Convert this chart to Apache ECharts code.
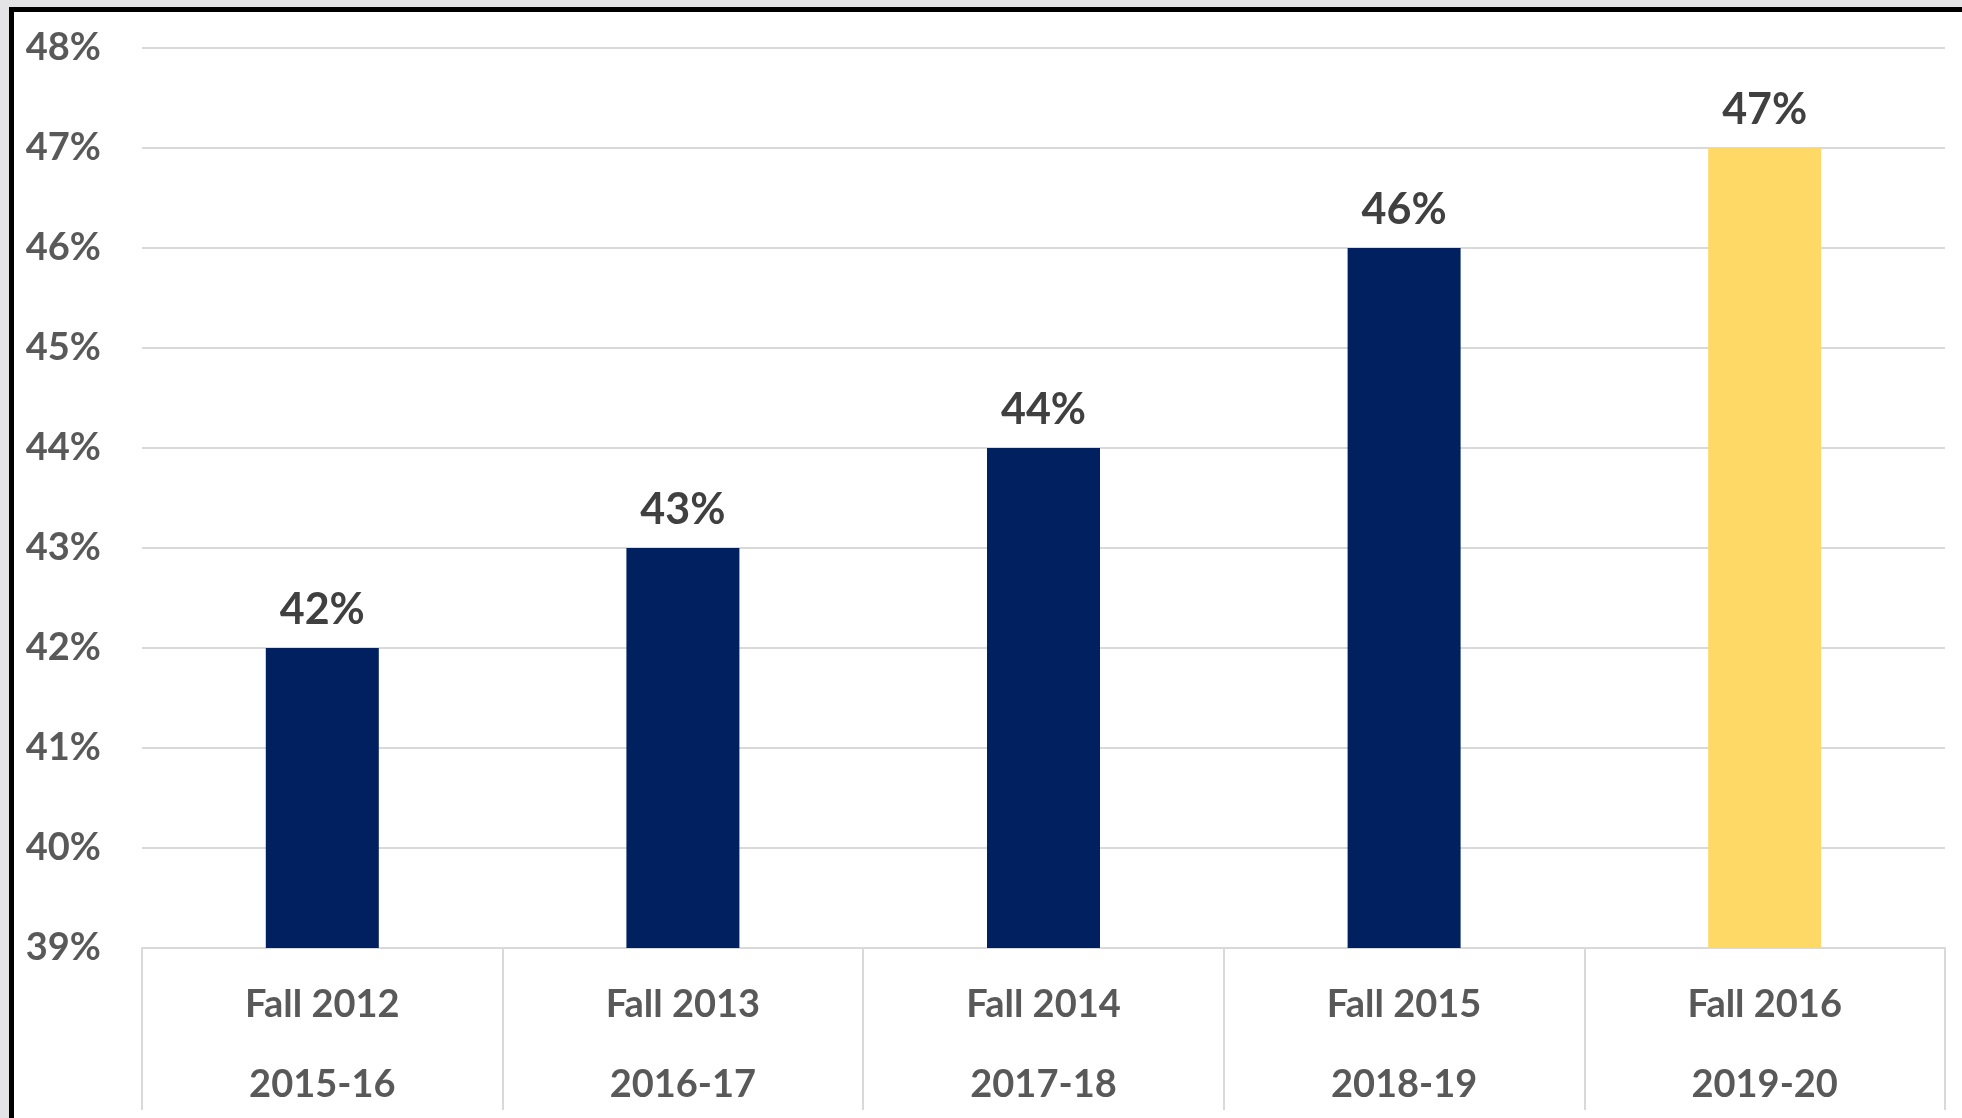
<!DOCTYPE html>
<html>
<head>
<meta charset="utf-8">
<script src="https://cdn.jsdelivr.net/npm/echarts@6/dist/echarts.min.js"></script>
<style>
html,body{margin:0;padding:0;width:1962px;height:1118px;overflow:hidden;background:#e4e4e6;}
#frame{position:absolute;left:9px;top:7px;width:1960px;height:1120px;background:#fff;border-left:5px solid #000;border-top:5px solid #000;}
#chart{position:absolute;left:0;top:0;width:1962px;height:1118px;}
</style>
</head>
<body>
<div id="frame"></div>
<div id="chart"></div>
<script>
const terms = ["Fall 2012", "Fall 2013", "Fall 2014", "Fall 2015", "Fall 2016"];
const years = ["2015-16", "2016-17", "2017-18", "2018-19", "2019-20"];
const values = [42, 43, 44, 46, 47];
const barColors = ["#002060", "#002060", "#002060", "#002060", "#FFD966"];
const yMin = 39, yMax = 48, yStep = 1;

const categories = terms.map((t, i) => t + "\n" + years[i]);
const chart = echarts.init(document.getElementById('chart'), null, {renderer: 'canvas'});
chart.setOption({
  backgroundColor: 'transparent',
  animation: false,
  grid: {left: 142, right: 17, top: 48, bottom: 170, containLabel: false, outerBoundsMode: 'none'},
  xAxis: {
    type: 'category',
    data: categories,
    boundaryGap: true,
    axisLine: {show: true, lineStyle: {color: '#d9d9d9', width: 2}},
    axisTick: {show: true, length: 162, lineStyle: {color: '#d9d9d9', width: 2}},
    axisLabel: {
      color: '#595959', fontFamily: 'Lato', fontWeight: 'bold', fontSize: 38,
      lineHeight: 80, margin: 17
    }
  },
  yAxis: {
    type: 'value', min: yMin, max: yMax, interval: yStep,
    axisLine: {show: false}, axisTick: {show: false},
    splitLine: {lineStyle: {color: '#d9d9d9', width: 2}},
    axisLabel: {
      formatter: '{value}%', color: '#595959', fontFamily: 'Lato', fontWeight: 'bold',
      fontSize: 38, margin: 41
    }
  },
  series: [{
    type: 'bar',
    data: values.map((v, i) => ({value: v, itemStyle: {color: barColors[i]}})),
    barWidth: 113,
    label: {
      show: true, position: 'top', distance: 16,
      formatter: '{c}%', color: '#404040', fontFamily: 'Lato', fontWeight: 'bold', fontSize: 43
    }
  }]
});
</script>
</body>
</html>
